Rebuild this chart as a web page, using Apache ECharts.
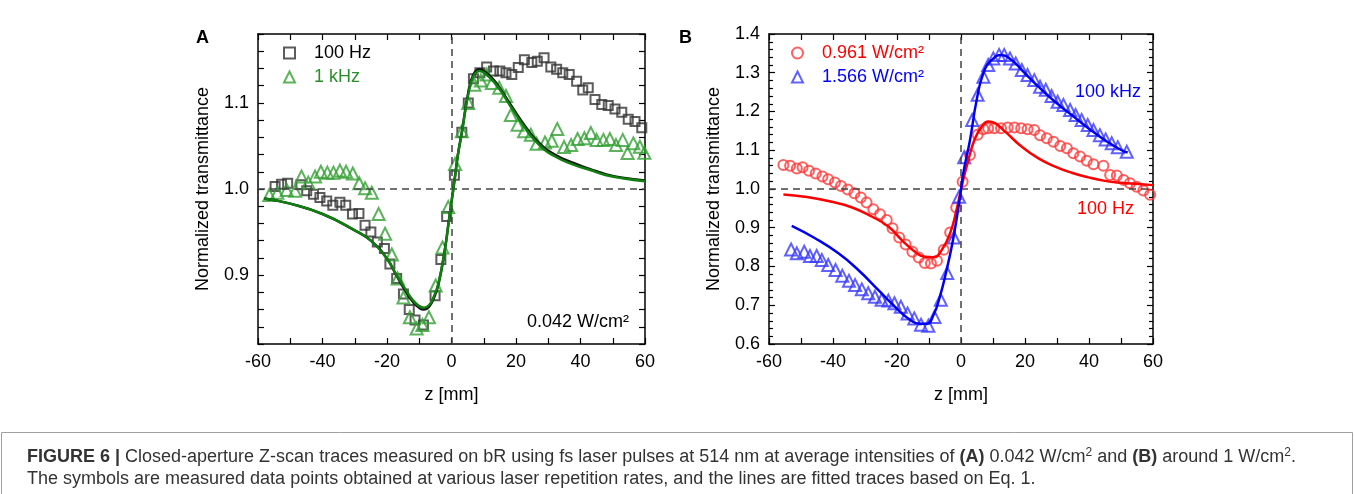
<!DOCTYPE html>
<html><head><meta charset="utf-8">
<script src="https://cdn.jsdelivr.net/npm/echarts/dist/echarts.min.js"></script>
<style>html,body{margin:0;padding:0;background:#fff;} #c{width:1355px;height:494px;}</style>
</head><body><div id="c"></div>
<script>
// ---------- DATA (z [mm], normalized transmittance) ----------
const xTicksLabels = [-60, -40, -20, 0, 20, 40, 60];

// Panel A: 0.042 W/cm2
const a100Hz = [[-54.7,1.003],[-52.7,1.0055],[-50.8,1.0066],[-46.7,1.005],[-44.9,0.998],[-42.8,0.994],[-40.8,0.990],[-38.7,0.986],[-36.8,0.981],[-34.6,0.9845],[-32.8,0.981],[-30.7,0.971],[-28.7,0.9716],[-26.8,0.958],[-25.0,0.950],[-23.0,0.9385],[-20.8,0.931],[-19.1,0.913],[-17.0,0.896],[-14.9,0.878],[-13.1,0.860],[-11.3,0.848],[-8.7,0.842],[-5.1,0.876],[-3.3,0.918],[-1.5,0.968],[0.9,1.016],[3.2,1.066],[5.2,1.100],[6.8,1.128],[8.8,1.135],[10.9,1.1416],[13.0,1.137],[15.0,1.137],[16.9,1.135],[18.7,1.133],[20.7,1.141],[22.6,1.150],[24.9,1.147],[26.6,1.1485],[28.7,1.1525],[30.8,1.1416],[32.6,1.139],[34.5,1.135],[36.5,1.133],[38.8,1.125],[40.7,1.115],[42.4,1.1175],[44.5,1.104],[46.6,1.098],[48.6,1.097],[50.7,1.093],[52.8,1.089],[54.8,1.081],[56.9,1.0785],[59.0,1.071]];
const a1kHz = [[-56.5,0.993],[-54.0,0.9957],[-51.1,0.9988],[-48.5,0.998],[-46.5,1.0144],[-44.4,1.0074],[-42.3,1.0144],[-40.5,1.020],[-38.5,1.019],[-36.6,1.019],[-34.6,1.0214],[-32.7,1.020],[-30.6,1.018],[-28.6,1.0066],[-26.8,1.001],[-24.7,0.9957],[-22.6,0.971],[-20.6,0.948],[-18.5,0.924],[-16.7,0.896],[-14.9,0.874],[-12.9,0.851],[-10.8,0.838],[-9.0,0.842],[-7.0,0.851],[-4.9,0.888],[-2.8,0.932],[-1.0,0.979],[1.1,1.029],[3.2,1.067],[5.2,1.100],[7.1,1.121],[9.1,1.126],[10.9,1.133],[12.5,1.123],[14.8,1.1175],[16.9,1.108],[18.4,1.086],[20.5,1.0747],[22.5,1.067],[24.6,1.063],[26.4,1.0525],[29.0,1.054],[31.1,1.056],[32.8,1.0697],[34.9,1.0487],[37.1,1.051],[39.1,1.058],[41.2,1.059],[43.2,1.065],[45.0,1.057],[47.1,1.057],[49.1,1.058],[51.0,1.051],[53.1,1.057],[54.6,1.0417],[56.4,1.053],[58.4,1.049],[59.8,1.042]];
const aFit100Hz = [[-58,0.989],[-50,0.983],[-40,0.971],[-30,0.952],[-25,0.940],[-20,0.919],[-17,0.899],[-14,0.880],[-12,0.869],[-10,0.862],[-8.5,0.860],[-7,0.863],[-5.5,0.873],[-4,0.890],[-2,0.931],[-1,0.958],[0,0.985],[1,1.012],[2,1.040],[3.2,1.066],[5.2,1.112],[6.8,1.133],[8.8,1.139],[11,1.134],[13,1.127],[15,1.117],[19,1.094],[23,1.072],[27,1.054],[32,1.040],[38,1.030],[43,1.023],[48,1.017],[53,1.013],[60,1.010]];
const aFit1kHz = [[-58,0.989],[-50,0.983],[-40,0.971],[-30,0.952],[-25,0.940],[-20,0.919],[-17,0.900],[-14,0.882],[-12,0.871],[-10,0.864],[-8.5,0.862],[-7,0.865],[-5.5,0.875],[-4,0.891],[-2,0.931],[-1,0.958],[0,0.985],[1,1.012],[2,1.040],[3.2,1.065],[5.2,1.110],[6.8,1.131],[8.8,1.137],[11,1.132],[13,1.125],[15,1.1155],[19,1.092],[23,1.070],[27,1.052],[32,1.038],[38,1.028],[43,1.022],[48,1.016],[53,1.0125],[60,1.009]];

// Panel B: around 1 W/cm2
const b0961 = [[-55.5,1.062],[-53.4,1.060],[-51.3,1.053],[-49.5,1.056],[-47.5,1.047],[-45.4,1.040],[-43.3,1.032],[-41.5,1.025],[-39.4,1.017],[-37.5,1.008],[-35.4,0.999],[-33.3,0.989],[-31.3,0.978],[-29.5,0.965],[-27.4,0.948],[-25.3,0.935],[-23.2,0.920],[-21.4,0.899],[-19.3,0.875],[-17.3,0.857],[-15.2,0.838],[-13.2,0.823],[-11.3,0.809],[-9.4,0.808],[-7.5,0.815],[-5.4,0.843],[-3.4,0.888],[-1.5,0.952],[0.5,1.019],[2.8,1.088],[5.2,1.140],[7.0,1.154],[8.5,1.157],[10.4,1.157],[12.5,1.157],[14.6,1.159],[16.7,1.159],[18.8,1.157],[20.8,1.154],[22.9,1.152],[24.7,1.139],[26.8,1.131],[28.9,1.122],[31.0,1.111],[33.1,1.105],[35.1,1.092],[37.2,1.084],[39.3,1.073],[41.4,1.064],[44.5,1.060],[46.6,1.036],[48.7,1.035],[50.8,1.023],[52.8,1.015],[54.9,1.006],[57.0,0.996],[59.1,0.985]];
const b1566 = [[-53.1,0.844],[-51.3,0.834],[-49.0,0.838],[-47.2,0.827],[-45.1,0.827],[-43.5,0.817],[-41.5,0.804],[-39.2,0.791],[-37.1,0.776],[-35.0,0.763],[-33.1,0.752],[-31.0,0.741],[-29.0,0.731],[-26.9,0.722],[-24.8,0.714],[-22.7,0.712],[-20.8,0.705],[-18.8,0.696],[-16.7,0.679],[-14.6,0.666],[-12.5,0.650],[-10.2,0.647],[-8.3,0.670],[-6.3,0.714],[-4.3,0.783],[-2.2,0.875],[-0.6,0.980],[1.0,1.082],[3.5,1.178],[5.2,1.243],[7.0,1.290],[8.5,1.320],[10.1,1.337],[11.9,1.346],[13.5,1.346],[15.3,1.337],[17.1,1.324],[19.0,1.307],[20.8,1.294],[22.9,1.281],[24.7,1.264],[26.5,1.256],[28.3,1.240],[30.2,1.225],[32.0,1.217],[34.1,1.204],[35.8,1.191],[37.7,1.178],[39.6,1.165],[41.4,1.152],[43.4,1.139],[45.2,1.128],[47.1,1.118],[49.0,1.108],[51.8,1.096]];
const bFit0961 = [[-55.5,0.986],[-48.8,0.980],[-40.4,0.967],[-34.2,0.953],[-27.9,0.929],[-22.7,0.903],[-18.5,0.868],[-14.4,0.838],[-11.3,0.825],[-8.6,0.824],[-6.0,0.843],[-3.4,0.886],[-1.4,0.946],[0.2,1.006],[2.3,1.075],[4.4,1.131],[6.5,1.161],[8.5,1.174],[10.6,1.170],[13.8,1.148],[19.0,1.109],[24.2,1.079],[29.4,1.058],[34.6,1.042],[39.8,1.030],[45.0,1.021],[50.2,1.016],[55.4,1.013],[60,1.010]];
const bFit1566 = [[-52.9,0.905],[-45.6,0.873],[-38.3,0.834],[-32.1,0.791],[-25.8,0.739],[-20.6,0.696],[-16.5,0.666],[-12.8,0.652],[-10.7,0.652],[-8.6,0.675],[-6.6,0.722],[-4.5,0.791],[-2.4,0.873],[-0.3,0.980],[0.7,1.040],[2.8,1.126],[4.9,1.230],[7.0,1.299],[9.6,1.333],[12.7,1.346],[15.8,1.333],[19.0,1.307],[24.2,1.264],[29.4,1.225],[34.6,1.191],[39.8,1.157],[45.0,1.126],[50.2,1.100],[52.1,1.094]];

const aYLabels = ['0.9', '1.0', '1.1'];
const bYLabels = ['0.6','0.7','0.8','0.9','1.0','1.1','1.2','1.3','1.4'];
const aLegend = ['100 Hz', '1 kHz'];
const bLegend = ['0.961 W/cm²', '1.566 W/cm²'];

// ---------- STYLE ----------
const FF = '"Liberation Sans", Arial, Helvetica, sans-serif';
const FS = 18;
const axisLine = {show: true, onZero: false, lineStyle: {color: '#000', width: 1.5}};
const tickStyle = {color: '#000', width: 1.2};
const C = {
  sq: '#333333', triG: '#33a033', lineK: '#111111', lineG: '#0f7f0f', txtG: '#2a8f2a',
  circR: '#ff3838', lineR: '#ff0000', txtR: '#ff0000',
  triB: '#3a3aff', lineB: '#0000f0', txtB: '#0000ff'
};

function xAxes(grid) {
  return [
    {gridIndex: grid, type: 'value', min: -60, max: 60, interval: 20, position: 'bottom',
     axisLine, splitLine: {show: false},
     axisTick: {inside: true, length: 6, lineStyle: tickStyle},
     minorTick: {show: true, splitNumber: 2, length: 6, lineStyle: tickStyle},
     axisLabel: {fontFamily: FF, fontSize: FS, color: '#000', margin: 9,
       formatter: v => xTicksLabels.includes(Math.round(v)) ? String(Math.round(v)) : ''},
     name: 'z [mm]', nameLocation: 'middle', nameGap: 42,
     nameTextStyle: {fontFamily: FF, fontSize: FS, color: '#000'}},
    {gridIndex: grid, type: 'value', min: -60, max: 60, interval: 20, position: 'top',
     axisLine, splitLine: {show: false}, axisLabel: {show: false},
     axisTick: {inside: true, length: 6, lineStyle: tickStyle},
     minorTick: {show: true, splitNumber: 2, length: 6, lineStyle: tickStyle}}
  ];
}

function fitLine(xi, yi, data, color, z) {
  return {type: 'line', xAxisIndex: xi, yAxisIndex: yi, data, showSymbol: false, smooth: 0.5,
    lineStyle: {color, width: 2.5}, z, silent: true};
}
function pts(name, xi, yi, data, symbol, size, color, z) {
  return {name, type: 'scatter', xAxisIndex: xi, yAxisIndex: yi, data, symbol, symbolSize: size,
    itemStyle: {color: 'rgba(0,0,0,0)', borderColor: color, borderWidth: 2}, z};
}
function refLines(xi, yi) {
  return {type: 'line', xAxisIndex: xi, yAxisIndex: yi, data: [], silent: true,
    markLine: {silent: true, symbol: ['none', 'none'], label: {show: false},
      lineStyle: {color: '#444', width: 1.5, type: [7, 5]},
      data: [{yAxis: 1.0}, {xAxis: 0}]}};
}

const option = {
  backgroundColor: '#fff',
  animation: false,
  grid: [
    {left: 258, top: 34, width: 387, height: 310},
    {left: 769, top: 34, width: 384, height: 310}
  ],
  xAxis: [...xAxes(0), ...xAxes(1)],
  yAxis: [
    {gridIndex: 0, type: 'value', min: 0.82, max: 1.18, interval: 0.02, position: 'left',
     axisLine, splitLine: {show: false},
     axisTick: {inside: true, length: 6, lineStyle: tickStyle},
     axisLabel: {fontFamily: FF, fontSize: FS, color: '#000', margin: 9,
       formatter: v => { const s = v.toFixed(1); return (Math.abs(v - Number(s)) < 1e-6 && aYLabels.includes(s)) ? s : ''; }},
     name: 'Normalized transmittance', nameLocation: 'middle', nameGap: 46,
     nameTextStyle: {fontFamily: FF, fontSize: FS, color: '#000'}},
    {gridIndex: 0, type: 'value', min: 0.82, max: 1.18, interval: 0.02, position: 'right',
     axisLine, splitLine: {show: false}, axisLabel: {show: false},
     axisTick: {inside: true, length: 6, lineStyle: tickStyle}},
    {gridIndex: 1, type: 'value', min: 0.6, max: 1.4, interval: 0.1, position: 'left',
     axisLine, splitLine: {show: false},
     axisTick: {inside: true, length: 6, lineStyle: tickStyle},
     minorTick: {show: true, splitNumber: 5, length: 4, lineStyle: tickStyle},
     axisLabel: {fontFamily: FF, fontSize: FS, color: '#000', margin: 9,
       formatter: v => { const s = v.toFixed(1); return bYLabels.includes(s) ? s : ''; }},
     name: 'Normalized transmittance', nameLocation: 'middle', nameGap: 46,
     nameTextStyle: {fontFamily: FF, fontSize: FS, color: '#000'}},
    {gridIndex: 1, type: 'value', min: 0.6, max: 1.4, interval: 0.1, position: 'right',
     axisLine, splitLine: {show: false}, axisLabel: {show: false},
     axisTick: {inside: true, length: 6, lineStyle: tickStyle},
     minorTick: {show: true, splitNumber: 5, length: 4, lineStyle: tickStyle}}
  ],
  legend: [
    {left: 283, top: 44, padding: 0, orient: 'vertical', itemWidth: 11, itemHeight: 11, itemGap: 6,
     textStyle: {fontFamily: FF, fontSize: FS, lineHeight: 18, padding: [0, 0, 0, 14]},
     data: [
       {name: aLegend[0], icon: 'rect', itemStyle: {color: 'rgba(0,0,0,0)', borderColor: C.sq, borderWidth: 2}, textStyle: {color: '#000'}},
       {name: aLegend[1], icon: 'triangle', itemStyle: {color: 'rgba(0,0,0,0)', borderColor: C.triG, borderWidth: 2}, textStyle: {color: C.txtG}}
     ]},
    {left: 791, top: 44, padding: 0, orient: 'vertical', itemWidth: 11, itemHeight: 11, itemGap: 6,
     textStyle: {fontFamily: FF, fontSize: FS, lineHeight: 18, padding: [0, 0, 0, 14]},
     data: [
       {name: bLegend[0], icon: 'circle', itemStyle: {color: 'rgba(0,0,0,0)', borderColor: C.circR, borderWidth: 2}, textStyle: {color: C.txtR}},
       {name: bLegend[1], icon: 'triangle', itemStyle: {color: 'rgba(0,0,0,0)', borderColor: C.triB, borderWidth: 2}, textStyle: {color: C.txtB}}
     ]}
  ],
  series: [
    refLines(0, 0),
    refLines(2, 2),
    pts(aLegend[0], 0, 0, a100Hz, 'rect', 9, C.sq, 3),
    pts(aLegend[1], 0, 0, a1kHz, 'triangle', 12, C.triG, 4),
    fitLine(0, 0, aFit100Hz, C.lineK, 5),
    fitLine(0, 0, aFit1kHz, C.lineG, 6),
    pts(bLegend[0], 2, 2, b0961, 'circle', 10, C.circR, 3),
    pts(bLegend[1], 2, 2, b1566, 'triangle', 12, C.triB, 4),
    fitLine(2, 2, bFit0961, C.lineR, 5),
    fitLine(2, 2, bFit1566, C.lineB, 6)
  ],
  graphic: [
    {type: 'text', left: 196, top: 29, style: {text: 'A', font: 'bold 18px ' + FF, fill: '#000'}},
    {type: 'text', left: 679, top: 29, style: {text: 'B', font: 'bold 18px ' + FF, fill: '#000'}},
    {type: 'text', left: 527, top: 313, style: {text: '0.042 W/cm²', font: '18px ' + FF, fill: '#000'}},
    {type: 'text', left: 1075, top: 83, style: {text: '100 kHz', font: '18px ' + FF, fill: C.txtB}},
    {type: 'text', left: 1077, top: 200, style: {text: '100 Hz', font: '18px ' + FF, fill: C.txtR}},
    {type: 'rect', shape: {x: 1.5, y: 432.5, width: 1351, height: 80}, style: {fill: 'none', stroke: '#a0a0a0', lineWidth: 1}},
    {type: 'text', left: 27, top: 447, style: {
      text: '{b|FIGURE 6 |} Closed-aperture Z-scan traces measured on bR using fs laser pulses at 514 nm at average intensities of {b|(A)} 0.042 W/cm{s|2} and {b|(B)} around 1 W/cm{s|2}.',
      font: '18px ' + FF, fill: '#333',
      rich: {b: {fontWeight: 'bold', fontSize: 18, fontFamily: FF, fill: '#333'},
             s: {fontSize: 12, fontFamily: FF, fill: '#333', verticalAlign: 'top', lineHeight: 20}}}},
    {type: 'text', left: 27, top: 470, style: {
      text: 'The symbols are measured data points obtained at various laser repetition rates, and the lines are fitted traces based on Eq. 1.',
      font: '18px ' + FF, fill: '#333'}}
  ]
};

const chart = echarts.init(document.getElementById('c'), null, {renderer: 'canvas'});
chart.setOption(option);
</script></body></html>
